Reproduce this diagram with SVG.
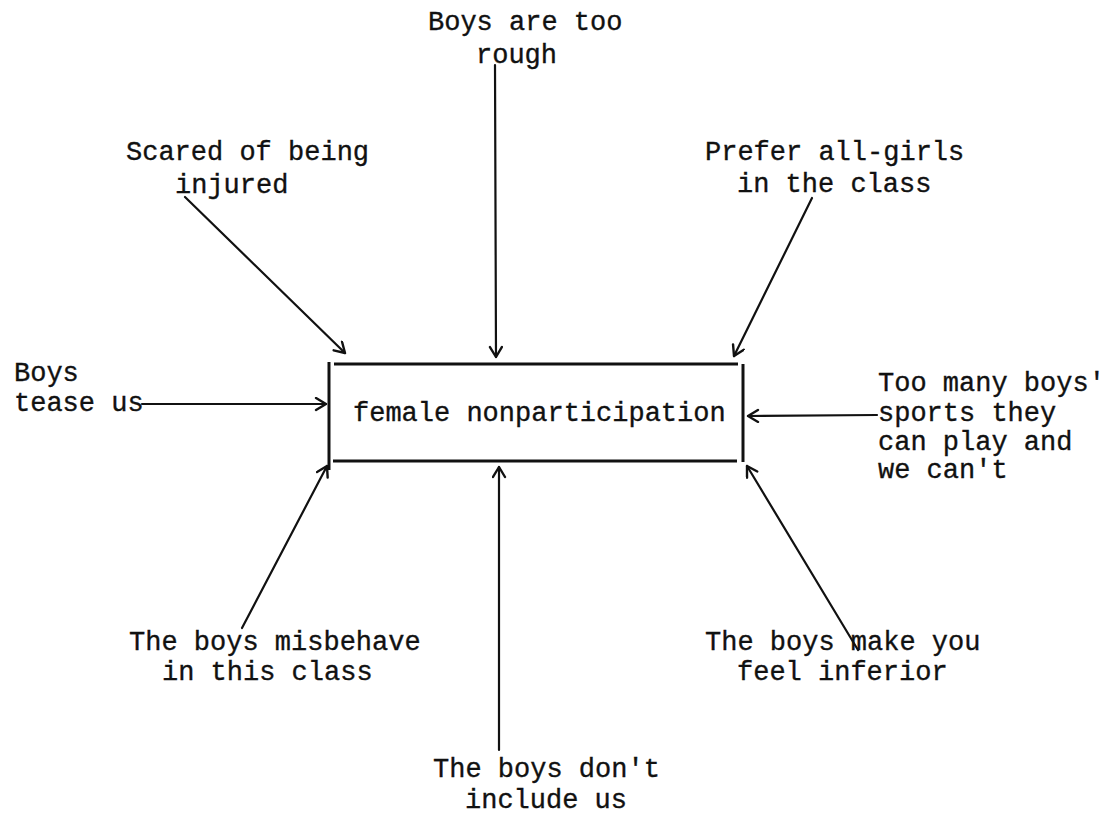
<svg xmlns="http://www.w3.org/2000/svg" width="1107" height="815" viewBox="0 0 1107 815">
  <style>
    text { font-family: "Liberation Mono", "DejaVu Sans Mono", monospace; font-size: 27px; fill: #111; stroke: #111; stroke-width: 0.35; }
    .ln { stroke: #111; stroke-width: 2.2; fill: none; stroke-linecap: round; }
    .box { stroke: #111; stroke-width: 3; fill: none; }
  </style>
  <defs>
    <marker id="head" markerUnits="userSpaceOnUse" markerWidth="16" markerHeight="16" refX="12" refY="7" orient="auto">
      <path d="M2,1 L12,7 L2,13" stroke="#111" stroke-width="2.4" fill="none" stroke-linecap="round" stroke-linejoin="round"/>
    </marker>
  </defs>
  <rect width="1107" height="815" fill="#fff"/>

  <!-- central box drawn as four ruled strokes -->
  <g id="center">
    <line class="box" x1="329" y1="362" x2="329" y2="470"/>
    <line class="box" x1="334" y1="364" x2="738" y2="364"/>
    <line class="box" x1="743" y1="364" x2="743" y2="462"/>
    <line class="box" x1="333" y1="461" x2="737" y2="461"/>
    <text x="353" y="421">female nonparticipation</text>
  </g>

  <g id="rough">
    <text x="428" y="30">Boys are too</text>
    <text x="476" y="63">rough</text>
  </g>
  <g id="injured">
    <text x="126" y="160">Scared of being</text>
    <text x="175" y="193">injured</text>
  </g>
  <g id="allgirls">
    <text x="705" y="160">Prefer all-girls</text>
    <text x="737" y="192">in the class</text>
  </g>
  <g id="tease">
    <text x="14" y="381">Boys</text>
    <text x="14" y="411">tease us</text>
  </g>
  <g id="sports">
    <text x="878" y="391">Too many boys'</text>
    <text x="878" y="421">sports they</text>
    <text x="878" y="450">can play and</text>
    <text x="878" y="478">we can't</text>
  </g>
  <g id="misbehave">
    <text x="129" y="650">The boys misbehave</text>
    <text x="162" y="680">in this class</text>
  </g>
  <g id="inferior">
    <text x="705" y="650">The boys make you</text>
    <text x="737" y="680">feel inferior</text>
  </g>
  <g id="include">
    <text x="433" y="777">The boys don't</text>
    <text x="465" y="808">include us</text>
  </g>

  <g id="connectors">
    <line class="ln" x1="495" y1="65" x2="496" y2="357" marker-end="url(#head)"/>
    <line class="ln" x1="185" y1="197" x2="345" y2="353" marker-end="url(#head)"/>
    <line class="ln" x1="812" y1="198" x2="734" y2="356" marker-end="url(#head)"/>
    <line class="ln" x1="142" y1="404" x2="326" y2="404" marker-end="url(#head)"/>
    <line class="ln" x1="877" y1="415" x2="748" y2="416" marker-end="url(#head)"/>
    <line class="ln" x1="242" y1="628" x2="327" y2="466" marker-end="url(#head)"/>
    <line class="ln" x1="858" y1="650" x2="747" y2="466" marker-end="url(#head)"/>
    <line class="ln" x1="499" y1="750" x2="499" y2="467" marker-end="url(#head)"/>
  </g>
</svg>
